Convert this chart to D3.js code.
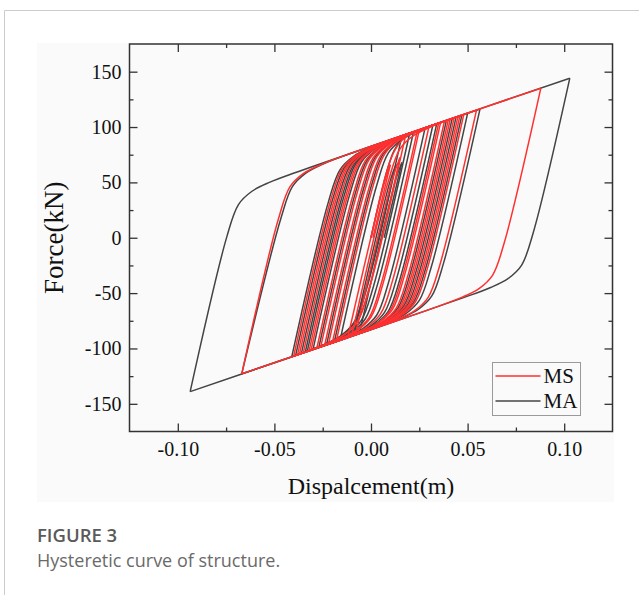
<!DOCTYPE html>
<html>
<head>
<meta charset="utf-8">
<script src="https://cdn.jsdelivr.net/npm/d3@7"></script>
<style>
  html, body { margin: 0; padding: 0; background: #fff; }
  svg { display: block; }
</style>
</head>
<body>
<svg id="chart" width="639" height="595"></svg>
<script>
// ---- data ----
const xTicks = [-0.10, -0.05, 0.00, 0.05, 0.10];
const xMinorTicks = [-0.075, -0.025, 0.025, 0.075];
const yTicks = [-150, -100, -50, 0, 50, 100, 150];
const yMinorTicks = [-125, -75, -25, 25, 75, 125];
const seriesNames = ['MS', 'MA'];

// each branch runs from one load reversal to the next: [displacement (m), force (kN)]
const msBranches = [
  [[0, 0], [0.008, 59], [0.012, 78], [0.016, 88], [0.020, 93.5], [0.025, 97.4]],
  [[0.025, 97.4], [0.006, -42.6], [0.000, -71.6], [-0.007, -83.6], [-0.016, -91.6], [-0.030, -100.8], [-0.032, -102.0]],
  [[-0.032, -102.0], [-0.013, 38.0], [-0.007, 67.0], [0.000, 79.0], [0.009, 87.0], [0.023, 96.2], [0.036, 104.0]],
  [[0.036, 104.0], [0.017, -36.0], [0.011, -65.0], [0.004, -77.0], [-0.005, -85.0], [-0.019, -94.2], [-0.0669, -122.9]],
  [[-0.0669, -122.9], [-0.0479, 17.1], [-0.0419, 46.1], [-0.0349, 58.1], [-0.0259, 66.1], [-0.0119, 75.3], [0.0546, 115.2]],
  [[0.0546, 115.2], [0.0356, -24.8], [0.0296, -53.8], [0.0226, -65.8], [0.0136, -73.8], [-0.0004, -83.0], [-0.038, -105.6]],
  [[-0.038, -105.6], [-0.019, 34.4], [-0.013, 63.4], [-0.006, 75.4], [0.003, 83.4], [0.017, 92.6], [0.0879, 135.1]],
  [[0.0879, 135.1], [0.0689, -4.9], [0.0629, -33.9], [0.0559, -45.9], [0.0469, -53.9], [0.0329, -63.1], [-0.028, -99.6]],
  [[-0.028, -99.6], [-0.009, 40.4], [-0.003, 69.4], [0.004, 81.4], [0.013, 89.4], [0.027, 98.6], [0.041, 107.0]],
  [[0.041, 107.0], [0.022, -33.0], [0.016, -62.0], [0.009, -74.0], [0.000, -82.0], [-0.014, -91.2], [-0.024, -97.2]],
  [[-0.024, -97.2], [-0.005, 42.8], [0.001, 71.8], [0.008, 83.8], [0.017, 91.8], [0.031, 101.0], [0.040, 106.4]],
  [[0.040, 106.4], [0.021, -33.6], [0.015, -62.6], [0.008, -74.6], [-0.001, -82.6], [-0.015, -91.8], [-0.018, -93.6]],
  [[-0.018, -93.6], [0.001, 46.4], [0.007, 75.4], [0.014, 87.4], [0.023, 95.4], [0.037, 104.6], [0.038, 105.2]],
  [[0.038, 105.2], [0.019, -34.8], [0.013, -63.8], [0.006, -75.8], [-0.003, -83.8], [-0.017, -93.0], [-0.020, -94.8]],
  [[-0.020, -94.8], [-0.001, 45.2], [0.005, 74.2], [0.012, 86.2], [0.021, 94.2], [0.035, 103.4]],
  [[0.035, 103.4], [0.016, -36.6], [0.010, -65.6], [0.003, -77.6], [-0.006, -85.6], [-0.020, -94.8], [-0.022, -96.0]],
  [[-0.022, -96.0], [-0.003, 44.0], [0.003, 73.0], [0.010, 85.0], [0.019, 93.0], [0.033, 102.2], [0.043, 108.2]],
  [[0.043, 108.2], [0.024, -31.8], [0.018, -60.8], [0.011, -72.8], [0.002, -80.8], [-0.012, -90.0], [-0.035, -103.8]],
  [[-0.035, -103.8], [-0.016, 36.2], [-0.010, 65.2], [-0.003, 77.2], [0.006, 85.2], [0.020, 94.4], [0.030, 100.4]],
  [[0.030, 100.4], [0.011, -39.6], [0.005, -68.6], [-0.002, -80.6], [-0.011, -88.6], [-0.025, -97.8], [-0.026, -98.4]],
  [[-0.026, -98.4], [-0.007, 41.6], [-0.001, 70.6], [0.006, 82.6], [0.015, 90.6], [0.029, 99.8], [0.046, 110.0]],
  [[0.046, 110.0], [0.027, -30.0], [0.021, -59.0], [0.014, -71.0], [0.005, -79.0], [-0.009, -88.2], [-0.010, -88.8]],
  [[-0.010, -88.8], [0.009, 51.2], [0.015, 80.2], [0.022, 92.2], [0.031, 100.2], [0.045, 109.4], [0.048, 111.2]],
  [[0.048, 111.2], [0.029, -28.8], [0.023, -57.8], [0.016, -69.8], [0.007, -77.8], [-0.007, -87.0], [-0.008, -87.6]],
  [[-0.008, -87.6], [0.011, 52.4], [0.015, 72.4]],
  [[0.015, 72.4], [-0.0012, -47.0], [-0.0072, -76.0], [-0.0142, -88.0], [-0.0232, -96.0], [-0.0372, -105.2], [-0.040, -106.8]],
  [[-0.040, -106.8], [-0.021, 33.2], [-0.015, 62.2], [-0.008, 74.2], [0.001, 82.2], [0.015, 91.4], [0.018, 93.2]],
  [[0.018, 93.2], [-0.001, -46.8], [-0.007, -75.8], [-0.014, -87.8], [-0.023, -95.8], [-0.037, -105.0]],
  [[-0.037, -105.0], [-0.018, 35.0], [-0.012, 64.0], [-0.005, 76.0], [0.004, 84.0], [0.018, 93.2], [0.024, 96.8]],
  [[0.024, 96.8], [0.005, -43.2], [-0.001, -72.2], [-0.008, -84.2], [-0.017, -92.2], [-0.031, -101.4]],
  [[-0.031, -101.4], [-0.012, 38.6], [-0.006, 67.6], [0.001, 79.6], [0.010, 87.6], [0.024, 96.8], [0.045, 109.4]],
  [[0.045, 109.4], [0.026, -30.6], [0.020, -59.6], [0.013, -71.6], [0.004, -79.6], [-0.010, -88.8], [-0.012, -90.0]],
  [[-0.012, -90.0], [0.007, 50.0], [0.010, 66.0]],
  [[0.010, 66.0], [0.001, 0.0]]
];

const maBranches = [
  [[0, 0], [0.0085, 62], [0.012, 79], [0.016, 89], [0.020, 94.4]],
  [[0.020, 94.4], [0.001, -45.6], [-0.005, -74.6], [-0.012, -86.6], [-0.021, -94.6], [-0.035, -103.8], [-0.036, -104.4]],
  [[-0.036, -104.4], [-0.017, 35.6], [-0.011, 64.6], [-0.004, 76.6], [0.005, 84.6], [0.019, 93.8], [0.042, 107.6]],
  [[0.042, 107.6], [0.023, -32.4], [0.017, -61.4], [0.010, -73.4], [0.001, -81.4], [-0.013, -90.6], [-0.0669, -122.9]],
  [[-0.0669, -122.9], [-0.0467, 17.1], [-0.0407, 46.1], [-0.0339, 58.1], [-0.0254, 66.1], [-0.0119, 75.3], [0.0564, 116.2]],
  [[0.0564, 116.2], [0.0374, -23.8], [0.0314, -52.8], [0.0244, -64.8], [0.0154, -72.8], [0.0014, -82.0], [-0.034, -103.2]],
  [[-0.034, -103.2], [-0.015, 36.8], [-0.009, 65.8], [-0.002, 77.8], [0.007, 85.8], [0.021, 95.0], [0.1029, 144.1]],
  [[0.1029, 144.1], [0.0839, 4.1], [0.0779, -24.9], [0.0709, -36.9], [0.0619, -44.9], [0.0479, -54.1], [-0.0936, -139.0]],
  [[-0.0936, -139.0], [-0.0746, 1.0], [-0.0686, 30.0], [-0.0616, 42.0], [-0.0526, 50.0], [-0.0386, 59.2], [0.028, 99.2]],
  [[0.028, 99.2], [0.009, -40.8], [0.003, -69.8], [-0.004, -81.8], [-0.013, -89.8], [-0.027, -99.0], [-0.030, -100.8]],
  [[-0.030, -100.8], [-0.011, 39.2], [-0.005, 68.2], [0.002, 80.2], [0.011, 88.2], [0.025, 97.4], [0.044, 108.8]],
  [[0.044, 108.8], [0.025, -31.2], [0.019, -60.2], [0.012, -72.2], [0.003, -80.2], [-0.011, -89.4], [-0.019, -94.2]],
  [[-0.019, -94.2], [0.000, 45.8], [0.006, 74.8], [0.013, 86.8], [0.022, 94.8], [0.034, 102.8]],
  [[0.034, 102.8], [0.015, -37.2], [0.009, -66.2], [0.002, -78.2], [-0.007, -86.2], [-0.021, -95.4], [-0.027, -99.0]],
  [[-0.027, -99.0], [-0.008, 41.0], [-0.002, 70.0], [0.005, 82.0], [0.014, 90.0], [0.028, 99.2], [0.032, 101.6]],
  [[0.032, 101.6], [0.013, -38.4], [0.007, -67.4], [0.000, -79.4], [-0.009, -87.4], [-0.023, -96.6]],
  [[-0.023, -96.6], [-0.004, 43.4], [0.002, 72.4], [0.009, 84.4], [0.018, 92.4], [0.032, 101.6], [0.039, 105.8]],
  [[0.039, 105.8], [0.020, -34.2], [0.014, -63.2], [0.007, -75.2], [-0.002, -83.2], [-0.016, -92.4]],
  [[-0.016, -92.4], [0.003, 47.6], [0.009, 76.6], [0.016, 88.6], [0.025, 96.6], [0.039, 105.8], [0.047, 110.6]],
  [[0.047, 110.6], [0.028, -29.4], [0.022, -58.4], [0.015, -70.4], [0.006, -78.4], [-0.008, -87.6], [-0.009, -88.2]],
  [[-0.009, -88.2], [0.010, 51.8], [0.013, 66.3]],
  [[0.013, 66.3], [-0.0025, -47.7], [-0.0085, -76.7], [-0.0155, -88.7], [-0.0245, -96.7], [-0.0385, -105.9], [-0.041, -107.4]],
  [[-0.041, -107.4], [-0.022, 32.6], [-0.016, 61.6], [-0.009, 73.6], [0.000, 81.6], [0.014, 90.8], [0.016, 92.0]],
  [[0.016, 92.0], [-0.003, -48.0], [-0.009, -77.0], [-0.016, -89.0], [-0.025, -97.0], [-0.039, -106.2]],
  [[-0.039, -106.2], [-0.020, 33.8], [-0.014, 62.8], [-0.007, 74.8], [0.002, 82.8], [0.016, 92.0], [0.022, 95.6]],
  [[0.022, 95.6], [0.003, -44.4], [-0.003, -73.4], [-0.010, -85.4], [-0.019, -93.4], [-0.033, -102.6]],
  [[-0.033, -102.6], [-0.014, 37.4], [-0.008, 66.4], [-0.001, 78.4], [0.008, 86.4], [0.022, 95.6], [0.050, 112.4]],
  [[0.050, 112.4], [0.031, -27.6], [0.025, -56.6], [0.018, -68.6], [0.009, -76.6], [-0.005, -85.8], [-0.006, -86.4]],
  [[-0.006, -86.4], [0.013, 53.6], [0.016, 68.0]],
  [[0.016, 68.0], [0.0068, 0]]
];

// ---- drawing ----
const svg = d3.select('#chart');
const serif = "'Liberation Serif', 'Times New Roman', serif";
const sans = "'Open Sans', 'Noto Sans', sans-serif";
const frameColor = '#333';
const colors = { MS: '#ff3030', MA: '#444444' };

const margin = { left: 129.5, right: 612.5, top: 44, bottom: 431.5 };

// card outline
svg.append('path')
    .attr('d', 'M4.5,595V10.5H639')
    .attr('fill', 'none')
    .attr('stroke', '#cccccc')
    .attr('stroke-width', 1);

// light grey figure background
svg.append('rect')
    .attr('x', 37).attr('y', 43)
    .attr('width', 577).attr('height', 459)
    .attr('fill', '#fafafa');

const xScale = d3.scaleLinear().domain([-0.125, 0.125]).range([margin.left, margin.right]);
const yScale = d3.scaleLinear().domain([-175, 175]).range([margin.bottom, margin.top]);

svg.append('clipPath').attr('id', 'plot-clip')
    .append('rect')
    .attr('x', margin.left).attr('y', margin.top)
    .attr('width', margin.right - margin.left)
    .attr('height', margin.bottom - margin.top);

const line = d3.line()
    .x(d => xScale(d[0]))
    .y(d => yScale(d[1]))
    .curve(d3.curveCatmullRom.alpha(0.5));

const curves = svg.append('g').attr('clip-path', 'url(#plot-clip)');

const drawSeries = (branches, color) => {
    curves.append('g')
        .selectAll('path').data(branches)
        .enter().append('path')
        .attr('d', line)
        .attr('fill', 'none')
        .attr('stroke', color)
        .attr('stroke-width', 1.5)
        .attr('stroke-linejoin', 'round');
};

// MA underneath, MS on top
drawSeries(maBranches, colors.MA);
drawSeries(msBranches, colors.MS);

// axes, ticks pointing inward
const styleAxis = (g) => {
    g.select('.domain').remove();
    g.selectAll('.tick line').attr('stroke', frameColor).attr('stroke-width', 1.3);
    g.selectAll('.tick text')
        .attr('fill', '#111')
        .style('font-family', serif)
        .style('font-size', '20px');
};

const fmtX = d => d.toFixed(2);
const fmtY = d => String(d);

svg.append('g')
    .attr('transform', `translate(0, ${margin.bottom})`)
    .call(d3.axisBottom(xScale).tickValues(xTicks).tickSizeInner(-8).tickSizeOuter(0).tickPadding(10).tickFormat(fmtX))
    .call(styleAxis);
svg.append('g')
    .attr('transform', `translate(0, ${margin.bottom})`)
    .call(d3.axisBottom(xScale).tickValues(xMinorTicks).tickSizeInner(-4).tickSizeOuter(0).tickFormat(''))
    .call(styleAxis);
svg.append('g')
    .attr('transform', `translate(0, ${margin.top})`)
    .call(d3.axisTop(xScale).tickValues(xTicks).tickSizeInner(-8).tickSizeOuter(0).tickFormat(''))
    .call(styleAxis);
svg.append('g')
    .attr('transform', `translate(0, ${margin.top})`)
    .call(d3.axisTop(xScale).tickValues(xMinorTicks).tickSizeInner(-4).tickSizeOuter(0).tickFormat(''))
    .call(styleAxis);

svg.append('g')
    .attr('transform', `translate(${margin.left}, 0)`)
    .call(d3.axisLeft(yScale).tickValues(yTicks).tickSizeInner(-8).tickSizeOuter(0).tickPadding(8).tickFormat(fmtY))
    .call(styleAxis);
svg.append('g')
    .attr('transform', `translate(${margin.left}, 0)`)
    .call(d3.axisLeft(yScale).tickValues(yMinorTicks).tickSizeInner(-4).tickSizeOuter(0).tickFormat(''))
    .call(styleAxis);
svg.append('g')
    .attr('transform', `translate(${margin.right}, 0)`)
    .call(d3.axisRight(yScale).tickValues(yTicks).tickSizeInner(-8).tickSizeOuter(0).tickFormat(''))
    .call(styleAxis);
svg.append('g')
    .attr('transform', `translate(${margin.right}, 0)`)
    .call(d3.axisRight(yScale).tickValues(yMinorTicks).tickSizeInner(-4).tickSizeOuter(0).tickFormat(''))
    .call(styleAxis);

// frame
svg.append('rect')
    .attr('x', margin.left).attr('y', margin.top)
    .attr('width', margin.right - margin.left)
    .attr('height', margin.bottom - margin.top)
    .attr('fill', 'none')
    .attr('stroke', frameColor)
    .attr('stroke-width', 1.5);

// axis titles
svg.append('text')
    .attr('x', (margin.left + margin.right) / 2)
    .attr('y', 494)
    .attr('text-anchor', 'middle')
    .attr('fill', '#111')
    .style('font-family', serif)
    .style('font-size', '24px')
    .text('Dispalcement(m)');

svg.append('text')
    .attr('transform', `translate(63, ${yScale(0)}) rotate(-90)`)
    .attr('text-anchor', 'middle')
    .attr('fill', '#111')
    .style('font-family', serif)
    .style('font-size', '27px')
    .text('Force(kN)');

// legend
const legend = svg.append('g').attr('transform', 'translate(492.5, 362.5)');
legend.append('rect')
    .attr('width', 88).attr('height', 53)
    .attr('fill', '#fafafa')
    .attr('stroke', '#9a9a9a')
    .attr('stroke-width', 1);
const legendRows = legend.selectAll('g.row').data(seriesNames)
    .enter().append('g')
    .attr('class', 'row')
    .attr('transform', (d, i) => `translate(0, ${13.5 + i * 25})`);
legendRows.append('line')
    .attr('x1', 3).attr('x2', 48)
    .attr('stroke', d => colors[d])
    .attr('stroke-width', 1.5);
legendRows.append('text')
    .attr('x', 51).attr('y', 7)
    .attr('fill', '#111')
    .style('font-family', serif)
    .style('font-size', '21px')
    .text(d => d);

// caption
svg.append('text')
    .attr('x', 37).attr('y', 542)
    .attr('fill', '#5a5a5a')
    .style('font-family', sans)
    .style('font-size', '18.5px')
    .style('font-weight', 600)
    .text('FIGURE 3');
svg.append('text')
    .attr('x', 37).attr('y', 567)
    .attr('fill', '#6a6a6a')
    .style('font-family', sans)
    .style('font-size', '18px')
    .text('Hysteretic curve of structure.');
</script>
</body>
</html>
